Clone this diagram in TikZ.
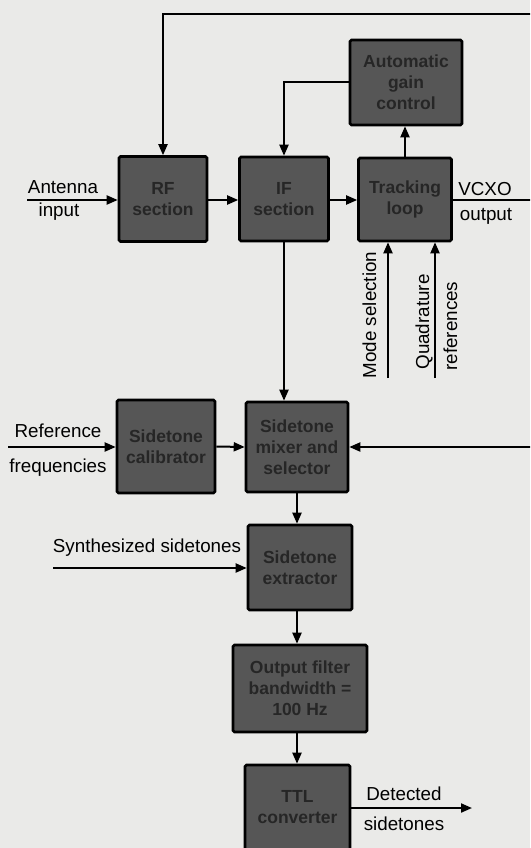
\documentclass[tikz,border=0pt]{standalone}
\usepackage{fontspec}
\setmainfont{Liberation Sans}
\usetikzlibrary{arrows.meta}
\definecolor{bg}{HTML}{EAEAE8}
\definecolor{boxfill}{HTML}{565656}
\definecolor{boxtext}{HTML}{262626}
\begin{document}
\begin{tikzpicture}[x=1pt,y=-1pt,
  blk/.style={draw=black, line width=2.6pt, fill=boxfill, rounded corners=1.5pt,
    text=boxtext, align=center, inner sep=0pt,
    font=\fontsize{17.5}{21}\selectfont\bfseries},
  lbl/.style={anchor=base, inner sep=0pt, font=\fontsize{18.8}{20}\selectfont},
  wire/.style={line width=2pt},
  arr/.style={line width=2pt, -{Triangle[length=11pt,width=9pt]}}]
\useasboundingbox (0,0) rectangle (530,848);
\fill[bg] (0,0) rectangle (530,848);
\clip (0,0) rectangle (530,848);
% blocks
\node[blk, minimum width=88pt, minimum height=85pt] (RF)  at (163,199) {RF\\section};
\node[blk, minimum width=89pt, minimum height=84pt] (IF)  at (284,199) {IF\\section};
\node[blk, minimum width=93pt, minimum height=83pt] (TL)  at (405,199.5) {Tracking\\loop};
\node[blk, minimum width=112pt, minimum height=85pt] (AGC) at (406,82.5) {Automatic\\gain\\control};
\node[blk, minimum width=98pt, minimum height=93pt] (CAL) at (166,446.5) {Sidetone\\calibrator};
\node[blk, minimum width=102pt, minimum height=90pt] (MIX) at (297,447) {Sidetone\\mixer and\\selector};
\node[blk, minimum width=104pt, minimum height=85pt] (EXT) at (300,567.5) {Sidetone\\extractor};
\node[blk, minimum width=134pt, minimum height=87pt] (FLT) at (300,688.5) {Output filter\\bandwidth =\\100 Hz};
\node[blk, minimum width=105pt, minimum height=85pt] (TTL) at (297.5,807.5) {TTL\\converter};
% free ends
\coordinate (topR) at (532,14);
\coordinate (ant) at (27,200);
\coordinate (vcxo) at (532,200);
\coordinate (ms) at (388,378);
\coordinate (qr) at (435,378);
\coordinate (ref) at (8,447);
\coordinate (mixR) at (532,447);
\coordinate (syn) at (53,568);
\coordinate (det) at (472,808);
% connectors
\draw[arr] (topR) -| (RF.north);
\draw[arr] (AGC.west) -| (IF.north);
\draw[arr] (TL.north) -- (TL.north |- AGC.south);
\draw[arr] (ant) -- (ant -| RF.west);
\draw[arr] (RF.east |- ant) -- (IF.west |- ant);
\draw[arr] (IF.east |- ant) -- (TL.west |- ant);
\draw[wire] (TL.east |- vcxo) -- (vcxo);
\draw[arr] (ms) -- (ms |- TL.south);
\draw[arr] (qr) -- (qr |- TL.south);
\draw[arr] (IF.south) -- (IF.south |- MIX.north);
\draw[arr] (ref) -- (ref -| CAL.west);
\draw[arr] (CAL.east) -- (MIX.west);
\draw[arr] (mixR) -- (mixR -| MIX.east);
\draw[arr] (MIX.south) -- (MIX.south |- EXT.north);
\draw[arr] (syn) -- (syn -| EXT.west);
\draw[arr] (EXT.south -| MIX.south) -- (MIX.south |- FLT.north);
\draw[arr] (MIX.south |- FLT.south) -- (MIX.south |- TTL.north);
\draw[arr] (TTL.east |- det) -- (det);
% labels
\node[lbl] (tAnt) at (63,193) {Antenna};
\node[lbl] (tIn) at (59,216) {input};
\node[lbl] (tV) at (485,195) {VCXO};
\node[lbl] (tO) at (486,220) {output};
\node[lbl, rotate=90] (tMS) at (376,315) {Mode selection};
\node[lbl, rotate=90] (tQ) at (429,322) {Quadrature};
\node[lbl, rotate=90] (tR) at (457,326) {references};
\node[lbl] (tRef) at (58,437) {Reference};
\node[lbl] (tFr) at (58,472) {frequencies};
\node[lbl] (tSyn) at (147,552) {Synthesized sidetones};
\node[lbl] (tDet) at (404,800) {Detected};
\node[lbl] (tSt) at (404,830) {sidetones};
\end{tikzpicture}
\end{document}
